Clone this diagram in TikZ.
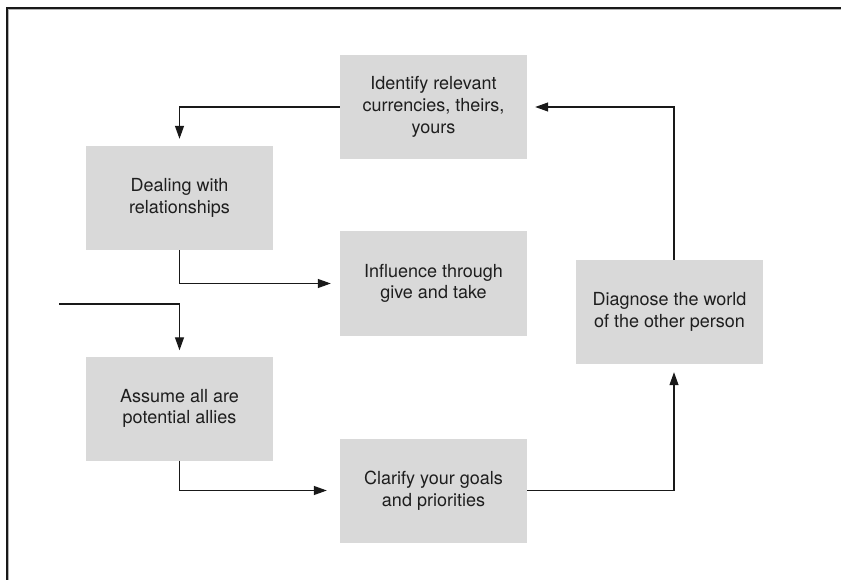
\documentclass[tikz,border=0pt]{standalone}
\usepackage{fontspec}
\setmainfont{TeX Gyre Heros}
\usetikzlibrary{arrows.meta}
\definecolor{boxgrey}{HTML}{D9D9D9}
\definecolor{txt}{HTML}{1E1E1E}
\tikzset{
  stepbox/.style={fill=boxgrey, draw=none, minimum width=187pt, minimum height=104pt,
    align=center, text=txt, inner sep=0pt,
    font=\fontsize{18pt}{21.7pt}\selectfont},
  conn/.style={line width=1.2pt, draw=black!90, -{Triangle[length=13pt,width=9pt]}},
}
\begin{document}
\begin{tikzpicture}[x=1pt,y=-1pt]
\useasboundingbox (0,0) rectangle (841,580);
% frame
\draw[line width=1.4pt, gray!60] (8.5,580) -- (8.5,9.5) -- (841,9.5);
\draw[line width=1.3pt, black!90] (7,580) -- (7,8) -- (841,8);

\node[stepbox] (ident) at (433.5,107) {Identify relevant\\currencies, theirs,\\yours};
\node[stepbox] (deal) at (179.5,198) {Dealing with\\relationships};
\node[stepbox] (infl) at (433.5,283.5) {Influence through\\give and take};
\node[stepbox] (diag) at (669.5,312) {Diagnose the world\\of the other person};
\node[stepbox] (assume) at (179.5,408.5) {Assume all are\\potential allies};
\node[stepbox] (clar) at (433.5,490.5) {Clarify your goals\\and priorities};

\coordinate (entry) at (59,304);

\draw[conn, shorten >=8pt] ([xshift=4.5pt]diag.north) |- (ident.east);
\draw[conn, shorten >=7pt] (ident.west) -| (deal.north);
\draw[conn, shorten >=9pt] (deal.south) |- (infl.west);
\draw[conn, shorten >=6pt] (entry) -| (assume.north);
\draw[conn, shorten >=13pt] (assume.south) |- (clar.west);
\draw[conn, shorten >=8pt] (clar.east) -| ([xshift=4.5pt]diag.south);
\end{tikzpicture}
\end{document}
